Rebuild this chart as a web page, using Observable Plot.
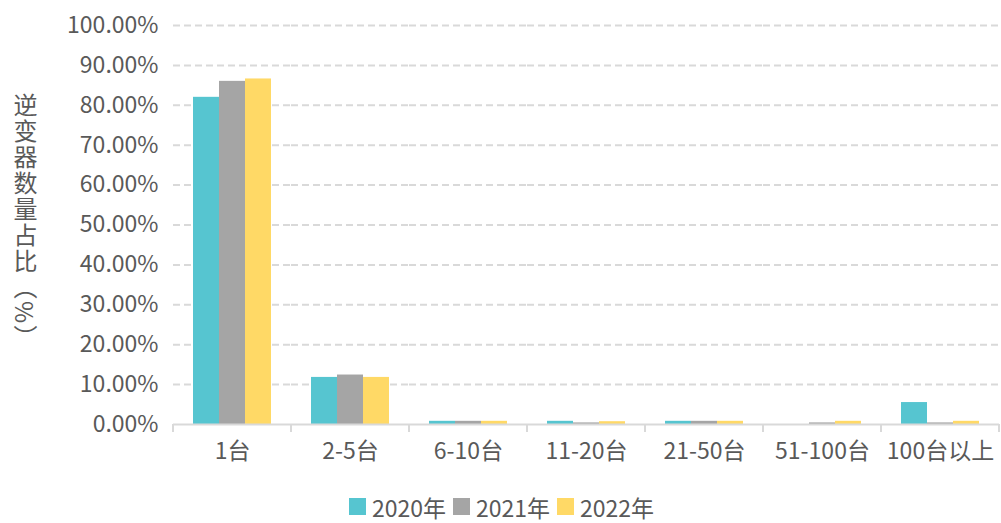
<!DOCTYPE html>
<html>
<head>
<meta charset="utf-8">
<script src="https://cdn.jsdelivr.net/npm/d3@7"></script>
<script src="https://cdn.jsdelivr.net/npm/@observablehq/plot@0.6"></script>
<style>
  body { margin: 0; background: #fff; }
  #wrap { position: relative; width: 1001px; height: 523px; font-family: "Noto Sans CJK SC", "Noto Sans", sans-serif; color: #595959; }
  #ylabel { position: absolute; left: 12px; top: 93px; writing-mode: vertical-rl; text-orientation: mixed; font-size: 24px; line-height: 26px; letter-spacing: 2px; color: #595959; white-space: nowrap; }
  #legend { display: flex; justify-content: center; align-items: center; gap: 7px; height: 33px; font-size: 23px; color: #595959; padding-left: 2px; }
  #legend .item { display: flex; align-items: center; gap: 6px; }
  #legend .sw { width: 17px; height: 17px; display: inline-block; }
</style>
</head>
<body>
<div id="wrap">
  <div id="chart"></div>
  <div id="legend"></div>
  <div id="ylabel"></div>
</div>
<script>
const categories = ["1台", "2-5台", "6-10台", "11-20台", "21-50台", "51-100台", "100台以上"];
const years = ["2020年", "2021年", "2022年"];
const v2020 = [82.0, 11.8, 0.8, 0.8, 0.8, 0, 5.5];
const v2021 = [86.0, 12.4, 0.8, 0.4, 0.8, 0.4, 0.4];
const v2022 = [86.6, 11.8, 0.8, 0.7, 0.8, 0.8, 0.8];
const yTicks = [0, 10, 20, 30, 40, 50, 60, 70, 80, 90, 100];
const colors = ["#56C5D0", "#A5A5A5", "#FFD966"];
const yTitle = "逆变器数量占比︵%︶";

const series = [v2020, v2021, v2022];
const data = [];
categories.forEach((c, i) => {
  years.forEach((yr, j) => data.push({cat: c, year: yr, value: series[j][i]}));
});

const font = '"Noto Sans CJK SC", "Noto Sans", sans-serif';
const chart = Plot.plot({
  width: 1001,
  height: 490,
  marginLeft: 172,
  marginRight: 1,
  marginTop: 25,
  marginBottom: 66,
  style: {fontSize: "23px", fontFamily: font, color: "#595959", background: "#fff"},
  fx: {domain: categories, padding: 0, label: null, axis: "bottom", tickSize: 0, tickPadding: 18},
  x: {domain: years, axis: null, paddingInner: 0, paddingOuter: 0.715},
  y: {domain: [0, 100], ticks: yTicks, tickFormat: d => d.toFixed(2) + "%", tickSize: 0, tickPadding: 15, label: null},
  color: {domain: years, range: colors},
  marks: [
    Plot.ruleY(yTicks.filter(d => d > 0), {stroke: "#d9d9d9", strokeWidth: 2, strokeDasharray: "7,4"}),
    Plot.barY(data, {fx: "cat", x: "year", y: "value", fill: "year"}),
    Plot.ruleY([0], {stroke: "#d9d9d9", strokeWidth: 2})
  ]
});
document.getElementById("chart").appendChild(chart);

// category boundary ticks below the baseline, placed with the fx and y scales
const fxs = chart.scale("fx");
const ys = chart.scale("y");
const y0 = ys.apply(0);
const bounds = categories.map(c => fxs.apply(c)).concat([fxs.apply(categories[categories.length - 1]) + fxs.bandwidth]);
const svg = d3.select(chart.tagName.toLowerCase() === "svg" ? chart : chart.querySelector("svg"));
svg.append("g").selectAll("line").data(bounds).join("line")
  .attr("x1", d => d).attr("x2", d => d)
  .attr("y1", y0).attr("y2", y0 + 8)
  .attr("stroke", "#d9d9d9").attr("stroke-width", 2);

// y title, written vertically
d3.select("#ylabel").text(yTitle);

// legend
const legend = d3.select("#legend");
years.forEach((yr, j) => {
  const it = legend.append("div").attr("class", "item");
  it.append("span").attr("class", "sw").style("background", colors[j]);
  it.append("span").text(yr);
});
</script>
</body>
</html>
